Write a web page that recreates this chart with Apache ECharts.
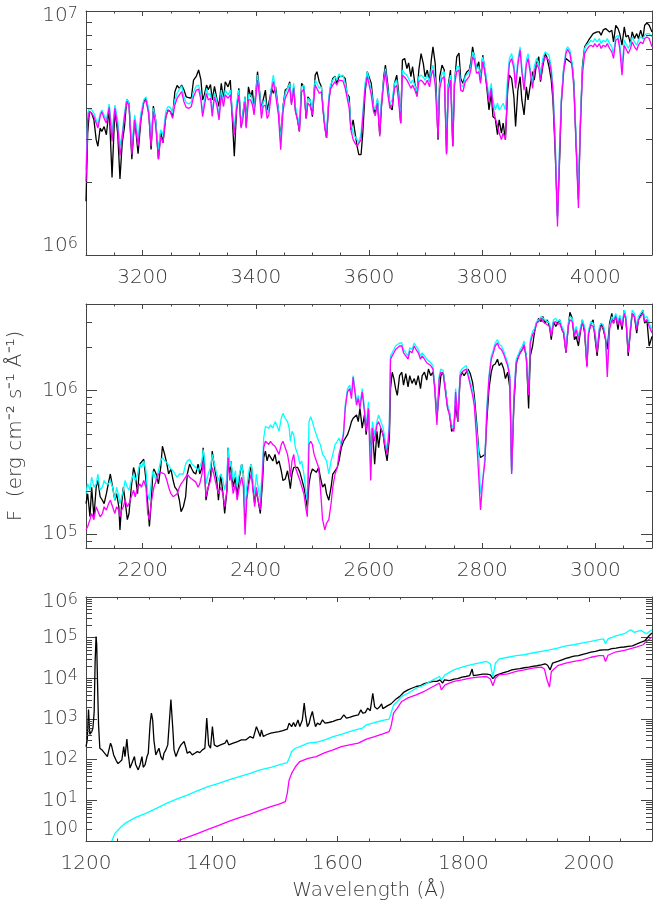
<!DOCTYPE html>
<html>
<head>
    <meta charset="utf-8">
    <script src="https://cdn.jsdelivr.net/npm/echarts@6/dist/echarts.min.js"></script>
</head>
<body style="margin:0">
<div id="main" style="width: 654px;height:904px;"></div>
<script type="text/javascript">
    // flux of the two upper panels is listed in units of 1e5 erg cm-2 s-1 A-1
    var FLUX_UNIT = 1e5;

    // top panel, 3100-4100 A
    var optWave = [3100,3103,3106,3110,3114,3118,3121,3125,3128,3132,
        3136,3141,3146,3151,3156,3160,3164,3168,3172,3176,
        3181,3186,3192,3197,3202,3206,3211,3215,3219,3223,
        3228,3232,3236,3241,3245,3249,3253,3257,3261,3265,
        3269,3273,3277,3282,3286,3290,3295,3299,3303,3306,
        3309,3313,3316,3320,3323,3327,3331,3335,3339,3343,
        3346,3351,3355,3358,3362,3366,3370,3374,3377,3381,
        3383,3387,3391,3394,3397,3400,3403,3407,3410,3413,
        3417,3420,3423,3428,3431,3435,3440,3444,3448,3452,
        3456,3460,3463,3467,3470,3474,3477,3481,3485,3489,
        3492,3496,3500,3505,3508,3512,3516,3519,3522,3525,
        3529,3532,3536,3540,3543,3547,3550,3554,3558,3561,
        3565,3568,3572,3575,3579,3582,3586,3589,3593,3597,
        3600,3604,3608,3611,3615,3619,3622,3626,3629,3633,
        3637,3641,3645,3649,3652,3656,3659,3663,3667,3670,
        3674,3677,3681,3685,3688,3692,3696,3699,3703,3707,
        3710,3713,3717,3722,3725,3729,3733,3737,3740,3744,
        3748,3751,3755,3759,3762,3766,3770,3773,3777,3780,
        3783,3786,3790,3794,3797,3801,3805,3808,3812,3816,
        3819,3823,3827,3830,3834,3837,3841,3845,3848,3852,
        3856,3859,3863,3867,3870,3874,3878,3881,3885,3889,
        3892,3896,3900,3903,3907,3911,3914,3918,3922,3925,
        3929,3933,3937,3940,3944,3948,3951,3955,3959,3962,
        3966,3970,3973,3977,3981,3984,3988,3992,3996,3999,
        4003,4007,4010,4014,4018,4021,4025,4029,4032,4036,
        4040,4043,4047,4051,4054,4058,4062,4065,4069,4073,
        4076,4080,4084,4087,4091,4095,4100];
    var optObs = [16.6,31.6,38.7,38.1,35.8,29.7,27.9,33.1,32.1,33.6,
        31.1,39.9,20.8,39.3,31.6,20.5,28.8,33.6,43.5,41.9,
        24.7,36.3,26.0,35.8,42.5,44.1,38.1,27.1,40.8,35.8,
        24.7,32.1,28.8,36.9,39.3,38.7,36.9,46.7,49.5,48.2,
        49.7,47.6,44.5,44.1,43.9,52.1,54.1,57.3,52.3,43.2,
        45.3,49.7,47.6,50.0,43.2,49.1,43.9,40.6,50.5,43.2,
        51.3,48.9,52.1,52.7,25.4,39.3,48.2,33.6,37.5,44.5,
        33.6,48.9,44.5,47.4,39.3,46.0,56.4,46.0,39.3,43.2,
        47.4,39.3,41.9,48.2,46.0,48.9,39.3,29.7,40.6,47.4,
        48.2,51.3,41.9,48.9,39.3,35.8,32.1,50.5,48.9,36.3,
        44.5,43.2,36.9,54.6,56.4,51.3,48.9,39.3,33.6,30.2,
        43.2,48.9,52.9,54.1,50.5,53.8,54.6,54.1,52.9,46.0,
        44.5,32.6,35.8,32.1,27.9,25.8,25.8,31.6,46.0,56.4,
        57.3,50.5,40.6,38.1,43.2,31.1,40.6,53.8,60.0,50.5,
        40.6,39.3,50.5,54.6,47.4,34.7,62.9,63.9,58.1,61.3,
        53.8,59.1,50.5,46.0,57.3,66.9,60.9,53.8,57.3,51.3,
        62.9,71.3,60.9,29.7,53.8,60.0,57.3,26.2,49.7,57.3,
        27.9,50.5,64.9,67.3,52.9,50.5,54.6,56.4,57.3,61.9,
        71.3,70.2,58.1,61.9,52.1,65.9,56.4,48.9,39.3,46.0,
        36.9,36.3,31.1,35.8,31.6,34.7,29.7,47.4,54.6,52.9,
        44.5,33.6,47.4,53.8,43.2,37.5,48.9,43.2,49.7,56.4,
        52.1,60.9,64.9,51.3,59.1,66.9,64.9,59.1,52.1,43.2,
        26.2,14.4,25.4,43.2,58.1,63.9,62.9,61.9,60.9,50.5,
        27.9,16.9,31.6,59.1,71.3,72.4,75.9,78.3,80.8,80.8,
        82.1,82.1,79.5,83.7,84.7,84.7,82.1,83.4,74.7,87.4,
        84.7,80.8,72.4,86.0,78.3,79.5,73.5,82.1,77.1,80.8,
        77.1,83.4,77.1,87.4,89.3,87.4,82.1];
    var optCyan = [22.3,38.1,39.9,39.3,38.1,35.8,34.1,38.1,39.3,37.5,
        35.8,41.6,31.6,41.2,35.8,27.9,31.6,38.1,43.6,41.9,
        27.9,37.5,30.2,38.1,43.2,44.5,39.3,30.2,39.9,35.8,
        27.0,32.6,31.1,38.7,40.6,40.3,38.1,43.2,46.0,47.8,
        49.3,44.5,42.1,41.6,42.5,46.7,49.3,49.7,45.3,38.1,
        42.5,48.2,45.3,46.0,38.3,46.2,43.2,36.9,47.4,42.5,
        47.4,45.3,47.4,47.8,32.6,41.9,47.4,34.1,37.5,44.5,
        34.1,45.3,45.3,43.2,39.3,46.0,54.6,46.0,38.1,42.5,
        43.2,38.1,39.3,49.7,54.6,47.4,39.3,28.8,40.6,46.0,
        48.2,50.5,43.2,50.5,40.6,36.9,33.6,48.9,49.7,38.1,
        43.9,43.2,39.3,52.1,51.3,48.2,48.9,40.6,34.7,32.1,
        44.5,49.7,52.1,53.8,52.1,55.3,53.8,54.6,50.5,46.7,
        41.9,34.7,31.6,30.6,29.7,28.8,31.6,38.1,50.5,56.4,
        57.3,47.4,40.6,39.3,43.9,34.1,43.2,52.1,58.1,48.2,
        41.9,43.2,50.5,52.1,45.3,36.3,57.3,55.5,54.6,52.9,
        50.5,52.1,49.7,46.7,53.8,54.6,53.5,52.1,54.6,51.3,
        57.3,60.0,52.1,33.1,50.5,55.5,56.4,28.8,48.9,54.6,
        30.6,52.1,59.1,59.1,49.7,48.9,53.8,54.6,56.4,60.0,
        68.0,65.9,58.1,59.1,52.9,64.9,58.1,52.1,44.5,50.5,
        43.2,39.3,41.9,39.3,40.6,41.9,39.3,53.8,63.9,66.9,
        60.9,50.5,62.9,71.3,59.1,49.7,62.9,66.9,58.1,50.5,
        59.1,63.9,60.9,54.6,63.9,68.0,69.1,65.9,59.1,48.9,
        29.7,14.0,29.7,44.5,59.1,69.1,71.3,69.1,60.9,50.5,
        29.7,17.4,33.6,57.3,70.2,72.4,73.5,75.9,74.7,77.1,
        74.7,77.1,73.5,75.9,74.7,77.1,73.5,71.3,66.9,78.3,
        79.5,73.5,59.1,75.9,74.7,70.2,73.5,78.3,74.7,72.4,
        75.9,78.3,77.1,79.5,80.8,80.8,78.3];
    var optMagenta = [20.0,35.8,38.7,38.1,36.9,34.7,33.1,36.9,38.7,36.3,
        34.7,40.3,29.2,39.9,33.6,25.4,30.2,36.9,42.5,40.8,
        25.8,35.8,27.9,36.3,41.9,43.2,37.5,27.9,38.7,34.1,
        24.7,30.6,28.8,36.9,39.1,38.7,36.3,41.2,43.9,45.3,
        46.7,42.5,40.3,39.9,40.6,44.5,47.4,47.8,43.2,36.9,
        40.6,46.0,43.2,43.9,37.0,44.5,41.2,35.8,45.3,40.6,
        45.3,43.9,45.3,46.0,31.0,39.3,45.3,33.1,35.8,42.5,
        33.1,43.2,43.2,41.2,37.5,43.9,52.1,43.9,36.3,40.6,
        41.2,36.3,37.5,47.4,51.3,45.3,37.5,27.0,38.7,43.9,
        46.0,48.6,41.2,48.2,38.7,35.3,32.1,46.7,47.8,36.3,
        41.9,40.8,37.5,49.7,48.9,46.0,46.7,38.7,33.1,30.2,
        42.5,47.8,49.7,51.3,49.7,52.1,51.3,51.7,48.2,44.5,
        39.9,32.6,29.7,28.8,27.9,27.4,29.7,36.3,47.8,53.8,
        54.6,45.3,38.7,37.2,41.9,30.6,41.2,50.5,56.4,46.0,
        39.9,41.2,48.2,49.7,43.2,34.7,54.6,53.5,52.1,50.5,
        48.2,49.7,47.4,44.5,51.3,52.1,50.9,49.7,52.1,48.9,
        54.6,57.3,49.7,30.2,48.2,52.9,53.8,25.8,46.7,52.1,
        27.9,49.7,56.4,57.3,47.4,46.7,51.3,52.1,53.8,57.3,
        64.9,62.9,55.5,56.4,50.5,61.9,55.5,49.7,42.5,48.2,
        40.6,36.3,34.1,31.6,29.7,31.6,29.7,48.9,60.9,63.9,
        58.1,48.2,60.0,69.1,56.4,47.4,60.0,63.9,55.5,48.2,
        56.4,60.9,58.1,52.1,60.9,64.9,65.9,62.9,56.4,46.7,
        27.9,13.1,27.9,42.5,56.4,66.9,69.6,66.9,58.1,48.2,
        27.9,15.6,31.6,54.6,66.9,69.1,71.3,72.4,71.3,73.5,
        71.3,73.5,70.2,72.4,71.3,73.5,70.2,68.0,63.9,75.9,
        77.1,70.2,54.6,72.4,71.3,66.9,70.2,74.7,71.3,69.1,
        72.4,74.7,73.5,77.1,78.3,77.1,71.3];

    // middle panel, 2100-3100 A
    var nuvWave = [2100,2103,2107,2110,2114,2118,2121,2125,2129,2132,
        2136,2140,2143,2147,2151,2154,2158,2160,2163,2166,
        2169,2173,2176,2180,2184,2187,2191,2195,2198,2202,
        2206,2209,2212,2215,2218,2220,2224,2228,2232,2235,
        2239,2243,2246,2250,2254,2257,2261,2265,2268,2272,
        2276,2279,2283,2287,2290,2294,2298,2301,2305,2307,
        2310,2312,2316,2320,2323,2327,2331,2334,2338,2342,
        2345,2349,2351,2354,2356,2360,2364,2367,2371,2375,
        2378,2381,2384,2387,2389,2392,2395,2398,2401,2404,
        2408,2412,2414,2417,2420,2423,2426,2430,2434,2437,
        2441,2445,2448,2452,2456,2459,2461,2464,2467,2470,
        2474,2478,2481,2485,2489,2491,2494,2497,2500,2503,
        2507,2511,2514,2518,2522,2525,2529,2533,2536,2540,
        2544,2547,2551,2555,2558,2562,2566,2569,2572,2575,
        2578,2581,2584,2588,2592,2595,2599,2603,2606,2610,
        2614,2617,2621,2625,2628,2632,2636,2638,2641,2644,
        2647,2650,2654,2658,2661,2665,2669,2672,2676,2680,
        2683,2687,2691,2694,2698,2702,2705,2709,2713,2716,
        2720,2724,2727,2731,2735,2739,2742,2746,2750,2753,
        2757,2761,2764,2768,2772,2775,2779,2783,2786,2790,
        2794,2797,2801,2805,2808,2812,2816,2819,2823,2827,
        2830,2834,2838,2841,2845,2849,2852,2856,2860,2863,
        2867,2871,2874,2878,2882,2885,2889,2893,2896,2900,
        2904,2907,2911,2915,2919,2922,2926,2930,2933,2937,
        2941,2944,2948,2952,2955,2959,2963,2966,2970,2974,
        2977,2981,2985,2988,2992,2996,2999,3003,3007,3010,
        3014,3018,3021,3025,3029,3032,3036,3040,3043,3047,
        3051,3054,3058,3062,3065,3069,3073,3076,3080,3084,
        3087,3091,3095,3100];
    var nuvObs = [1.63,1.91,1.32,2.12,1.32,2.12,2.36,1.82,1.72,1.63,
        1.91,2.30,2.62,2.12,1.72,1.91,1.55,1.07,1.63,2.12,
        1.72,1.26,1.39,2.12,2.91,2.62,1.91,3.07,3.15,3.32,
        2.36,1.63,1.13,1.63,2.62,2.84,2.62,2.24,2.91,4.09,
        3.59,3.07,2.62,2.84,2.36,2.12,2.02,1.72,1.43,1.55,
        1.82,2.62,3.07,2.84,2.69,2.62,3.07,2.62,2.91,3.99,
        2.62,1.72,2.12,2.49,3.78,2.91,2.36,1.72,2.62,1.91,
        1.39,2.02,3.99,2.62,3.23,2.12,2.49,1.82,2.49,3.07,
        2.62,1.26,1.91,2.24,2.62,3.07,2.12,1.63,2.02,1.72,
        1.39,2.36,3.41,3.78,3.23,3.59,3.50,3.23,3.59,3.07,
        3.23,2.76,2.36,2.42,2.76,2.36,2.07,2.62,2.91,2.84,
        2.91,2.69,2.62,2.12,1.72,1.51,2.24,2.62,2.84,2.76,
        2.69,2.91,2.49,2.12,2.24,1.91,1.72,2.12,2.62,2.76,
        2.91,3.23,3.99,4.43,4.55,4.92,5.47,6.07,6.40,6.57,
        6.75,6.07,7.50,5.47,6.75,4.92,7.50,3.59,5.47,3.07,
        5.19,3.99,5.47,4.92,3.99,3.23,4.67,10.3,13.4,12.1,
        10.3,9.25,12.7,13.4,10.9,13.1,10.6,12.7,11.2,12.1,
        10.9,12.7,10.3,12.7,13.4,11.8,14.1,12.7,13.4,10.9,
        6.40,9.77,12.7,13.4,10.3,7.50,7.11,5.19,5.47,7.90,
        6.07,12.1,13.4,12.7,13.4,14.1,13.1,11.4,9.25,6.07,
        3.78,3.41,3.50,3.59,6.07,10.3,13.4,14.9,15.3,16.5,
        14.9,15.6,14.1,12.1,13.4,10.3,2.76,7.90,14.9,17.4,
        18.3,19.3,20.4,17.4,7.50,17.4,20.4,26.5,29.4,31.8,
        30.2,32.7,29.4,31.0,27.9,22.6,30.2,27.9,29.4,31.0,
        26.5,25.1,18.3,27.9,35.0,31.8,22.6,23.8,20.4,26.5,
        31.0,25.1,14.9,25.1,29.4,31.0,23.8,17.4,25.1,29.4,
        26.5,22.6,19.3,29.4,34.4,29.4,33.5,26.5,32.7,26.5,
        36.3,31.0,17.4,26.5,34.4,32.7,25.1,31.0,33.5,36.3,
        29.4,31.0,20.4,23.8];
    var nuvCyan = [1.91,2.24,2.02,2.49,2.12,2.24,2.62,2.02,2.12,2.36,
        2.24,2.24,2.36,2.12,1.72,2.12,1.82,1.63,1.82,2.02,
        2.36,2.12,2.02,2.36,2.62,2.36,2.62,3.07,2.91,3.23,
        2.76,1.91,1.72,2.24,2.76,2.62,2.36,2.76,3.23,3.41,
        3.23,3.15,3.07,2.84,2.76,2.62,2.49,2.62,2.55,2.62,
        3.07,3.23,3.32,3.07,3.15,2.91,2.76,2.84,3.23,3.88,
        3.23,2.24,2.62,2.91,3.59,3.07,2.62,2.36,2.62,2.36,
        2.02,2.49,3.99,2.91,3.23,2.36,2.76,2.12,2.62,3.07,
        2.62,1.39,2.12,2.62,2.91,3.07,2.36,1.91,2.62,2.12,
        1.72,3.07,4.67,5.61,5.76,5.47,5.76,5.47,6.07,5.76,
        5.19,6.40,6.93,6.40,6.07,5.47,4.43,5.19,4.92,3.99,
        3.59,3.07,3.23,2.62,1.91,1.72,6.07,6.57,6.07,5.47,
        4.92,4.43,4.20,3.59,3.41,3.23,2.62,3.23,3.59,4.20,
        4.43,4.67,4.20,5.19,7.90,10.3,10.9,9.25,12.7,10.3,
        8.33,9.25,7.90,10.3,7.50,5.47,8.33,3.07,6.07,4.92,
        6.07,6.75,6.07,5.47,4.67,3.78,6.07,17.4,18.3,19.3,
        20.4,19.8,21.4,21.4,19.3,18.3,17.4,19.8,19.3,21.4,
        20.4,19.3,17.4,18.3,17.4,16.5,16.1,15.6,14.9,10.9,
        6.07,12.7,14.1,13.8,10.3,7.90,7.11,5.76,5.47,10.3,
        6.40,13.4,14.1,14.5,14.9,13.4,11.4,10.3,8.33,5.47,
        3.59,1.91,2.36,3.59,7.50,12.7,17.4,18.8,21.4,22.6,
        20.9,20.4,18.8,17.4,15.6,12.7,2.62,9.25,16.5,17.4,
        19.3,20.4,22.1,17.4,9.77,22.6,25.8,27.2,30.2,31.0,
        32.7,31.8,31.0,30.2,29.4,25.1,31.0,31.8,30.2,31.0,
        27.9,26.5,19.3,29.4,32.7,31.8,25.1,27.9,23.8,27.9,
        31.0,27.9,15.6,26.5,30.2,29.4,26.5,19.3,27.9,29.4,
        28.7,23.8,14.1,27.9,32.7,31.0,34.4,30.2,33.5,29.4,
        36.3,32.7,19.3,27.9,36.3,34.4,27.9,32.7,34.4,36.3,
        31.8,32.7,29.4,26.5];
    var nuvMagenta = [1.07,1.13,1.26,1.39,1.26,1.55,1.59,1.32,1.39,1.55,
        1.47,1.63,1.72,1.55,1.39,1.55,1.47,1.32,1.47,1.55,
        1.72,1.55,1.63,1.82,2.02,1.82,2.12,2.24,2.12,2.36,
        2.12,1.39,1.26,1.63,1.91,2.12,2.36,2.62,2.69,2.76,
        2.62,2.36,2.12,1.91,1.82,1.77,1.91,2.12,2.24,2.36,
        2.49,2.62,2.49,2.42,2.49,2.30,2.12,2.24,2.62,3.23,
        2.49,1.82,2.12,2.36,2.91,2.49,2.12,1.91,2.12,1.91,
        1.55,2.02,3.41,2.36,2.62,1.91,2.24,1.72,2.12,2.49,
        2.12,0.99,1.72,2.12,2.36,2.62,2.02,1.55,2.12,1.72,
        1.47,2.62,3.99,4.43,4.31,4.20,4.43,4.20,4.09,3.99,
        3.59,4.20,4.43,3.99,3.59,3.07,2.49,3.23,3.59,2.91,
        2.62,2.36,2.36,1.91,1.47,1.32,4.20,4.43,4.20,3.59,
        3.23,2.91,2.12,1.26,1.07,1.19,1.26,1.63,2.12,2.62,
        2.91,3.59,4.20,4.92,7.50,9.77,10.3,8.78,12.4,9.77,
        7.90,8.78,7.50,9.77,7.11,5.19,7.50,2.36,5.47,4.43,
        5.76,6.07,5.47,4.92,4.20,3.59,5.47,16.5,17.4,18.3,
        19.3,18.8,20.4,20.4,18.3,17.4,16.5,18.8,18.3,20.4,
        19.3,18.3,16.5,17.4,16.5,15.6,15.3,14.9,14.1,10.3,
        5.76,12.1,13.4,13.1,9.77,7.50,6.75,5.47,5.19,9.77,
        6.07,12.7,13.4,13.8,14.1,12.7,10.9,9.25,7.90,4.67,
        2.49,1.47,2.36,3.23,6.75,12.1,16.5,17.9,20.4,21.4,
        19.8,19.3,17.9,16.5,14.9,12.1,2.62,8.78,15.6,16.5,
        18.3,19.3,20.9,16.5,9.25,21.4,24.5,25.8,29.4,30.2,
        31.8,30.2,29.4,28.7,27.9,23.8,29.4,30.2,28.7,29.4,
        26.5,25.1,18.3,27.9,31.0,30.2,23.8,26.5,22.6,26.5,
        29.4,26.5,14.5,25.1,28.7,27.9,25.1,18.3,26.5,27.9,
        27.2,22.6,12.4,26.5,31.0,29.4,32.7,28.7,31.8,27.9,
        34.4,31.0,18.3,26.5,34.4,32.7,26.5,31.0,32.7,34.4,
        30.2,31.0,27.9,25.1];

    // bottom panel, 1200-2100 A: [wavelength, flux]
    var fuvObs = [[1200,210],[1202,300],[1204,1700],[1206,420],[1209,480],[1211,600],[1213,1500],
        [1214.5,25000],[1216,107000],[1217,70000],[1218.5,6000],[1220,700],[1222,190],[1226,170],
        [1229,158],[1234,119],[1237,131],[1239,254],[1241,210],[1244,131],[1248,95],[1251,80],
        [1254,88],[1257,98],[1260,210],[1262,119],[1265,320],[1267,144],[1270,62],[1274,90],
        [1277,119],[1279,76],[1283,56],[1286,76],[1289,119],[1291,65],[1294,76],[1297,119],
        [1299,144],[1302,790],[1304,1400],[1306,950],[1308,300],[1311,131],[1314,144],[1316,191],
        [1319,119],[1322,98],[1324,144],[1327,174],[1330,231],[1332,650],[1335,3000],[1338,590],
        [1340,174],[1343,119],[1345,131],[1348,191],[1351,231],[1353,210],[1356,279],[1359,191],
        [1361,144],[1365,158],[1369,131],[1373,144],[1377,158],[1381,149],[1385,174],[1389,191],
        [1392,1050],[1395,231],[1398,191],[1401,650],[1404,231],[1408,210],[1414,231],[1421,254],
        [1424,306],[1427,231],[1434,254],[1441,279],[1447,306],[1454,306],[1461,370],[1466,340],
        [1471,650],[1474,490],[1477,370],[1479,540],[1482,370],[1487,410],[1494,450],[1500,470],
        [1507,490],[1513,520],[1520,560],[1523,790],[1527,650],[1530,820],[1533,650],[1537,950],
        [1540,650],[1544,950],[1547,2450],[1549,1260],[1552,650],[1555,790],[1557,1100],[1560,1530],
        [1563,870],[1565,650],[1568,790],[1572,720],[1576,950],[1580,790],[1586,820],[1593,870],
        [1599,950],[1605,990],[1610,1260],[1614,1050],[1619,1100],[1626,1200],[1633,1260],[1637,1680],
        [1640,1390],[1644,1430],[1648,1850],[1652,1600],[1656,4300],[1659,2000],[1663,1750],[1667,2000],
        [1670,2350],[1672,1800],[1679,2100],[1685,2350],[1692,3000],[1699,3600],[1705,4500],[1712,5200],
        [1718,5700],[1725,6300],[1732,6600],[1738,7400],[1745,8000],[1752,8400],[1758,8400],[1763,9200],
        [1767,7600],[1770,9200],[1778,8800],[1785,9600],[1791,9800],[1798,10700],[1804,11100],[1810,11600],
        [1814,16900],[1816,11600],[1824,12200],[1831,12700],[1838,12700],[1843,12200],[1847,9800],[1851,11600],
        [1857,12700],[1864,13800],[1871,14800],[1877,16200],[1884,16900],[1890,17300],[1897,18200],[1904,18900],
        [1910,19600],[1917,20400],[1924,21500],[1930,22800],[1934,21000],[1938,16200],[1942,23700],[1950,26000],
        [1957,28600],[1963,31000],[1970,33000],[1976,35000],[1983,36000],[1990,39000],[1996,41000],[2003,44000],
        [2010,46000],[2016,49000],[2023,50000],[2030,50000],[2036,54000],[2043,55000],[2049,58000],[2056,59000],
        [2062,61000],[2069,63000],[2076,70000],[2082,77000],[2089,85000],[2095,110000],[2100,130000]];
    var fuvCyan = [[1241,1.0],[1246,1.54],[1256,2.24],[1262,2.71],[1279,3.81],[1295,4.8],[1312,6.35],
        [1328,8.4],[1345,10.8],[1361,13.5],[1378,17.3],[1394,21.7],[1411,26.2],[1427,31.7],[1444,38.3],
        [1461,46],[1477,56],[1494,65],[1507,74],[1520,85],[1523,108],[1527,158],[1533,191],[1540,210],
        [1553,254],[1566,268],[1580,306],[1593,370],[1606,420],[1619,490],[1633,560],[1639,590],[1646,720],
        [1659,820],[1672,920],[1682,990],[1685,1390],[1689,2200],[1695,2700],[1702,3600],[1712,4300],
        [1725,5700],[1738,6900],[1752,9200],[1762,11100],[1765,9200],[1768,10700],[1771,12200],[1785,16200],
        [1798,18900],[1811,21500],[1824,23700],[1837,26000],[1843,22800],[1847,10700],[1851,23700],[1857,30000],
        [1871,33000],[1884,36000],[1897,38000],[1910,42000],[1924,46000],[1937,50000],[1950,55000],[1963,63000],
        [1976,67000],[1990,74000],[2003,81000],[2016,89000],[2023,93000],[2026,71000],[2030,93000],[2043,111000],
        [2056,125000],[2066,157000],[2072,135000],[2082,152000],[2091,125000],[2100,157000]];
    var fuvMagenta = [[1345,1.0],[1361,1.23],[1378,1.54],[1394,1.93],[1411,2.42],[1427,3.04],[1444,3.74],
        [1461,4.6],[1477,5.67],[1494,7.0],[1507,8.1],[1517,9.3],[1520,14.9],[1523,31.7],[1527,46],[1533,67],
        [1540,90],[1553,108],[1566,119],[1580,149],[1593,174],[1606,210],[1619,231],[1633,254],[1646,320],
        [1659,370],[1672,430],[1682,490],[1685,650],[1689,1390],[1692,1530],[1695,1850],[1702,2700],[1712,3300],
        [1725,3900],[1738,4800],[1752,6300],[1762,7600],[1765,5200],[1768,4800],[1771,6900],[1785,8400],
        [1798,9200],[1811,10100],[1824,10700],[1837,11100],[1843,9600],[1847,6600],[1851,10100],[1857,12200],
        [1871,12900],[1884,14800],[1897,16200],[1910,17800],[1924,18900],[1929,16900],[1933,9200],[1937,6100],
        [1940,14800],[1950,20400],[1963,23700],[1976,26000],[1990,28600],[2003,33000],[2016,36000],[2023,36000],
        [2026,26000],[2030,37000],[2043,45000],[2056,49000],[2069,55000],[2076,59000],[2086,67000],[2091,81000],
        [2100,104000]];

    // log minor tick values of each panel
    var minorOpt = [2e6,3e6,4e6,5e6,6e6,7e6,8e6,9e6];
    var minorNuv = [9e4,2e5,3e5,4e5,5e5,6e5,7e5,8e5,9e5,2e6,3e6];
    var minorFuv = [2,3,4,5,6,7,8,9, 20,30,40,50,60,70,80,90,
        200,300,400,500,600,700,800,900, 2e3,3e3,4e3,5e3,6e3,7e3,8e3,9e3,
        2e4,3e4,4e4,5e4,6e4,7e4,8e4,9e4, 2e5,3e5,4e5,5e5,6e5,7e5,8e5,9e5];

    var TEXT = '#3a3a3a';
    var FRAME = '#444';
    var FONT = 'DejaVu Sans';
    var WEIGHT = 200;
    var COLORS = ['#000000', '#00ffff', '#ff00ff'];

    function zipFlux(w, f) {
        return w.map(function (x, i) { return [x, f[i] * FLUX_UNIT]; });
    }

    var panels = [
        {top: 11, xmin: 3100, xmax: 4100, ymin: 1e6, ymax: 1e7, minor: minorOpt, firstX: false,
            lowGap: 'gapA', highGap: true,
            lines: [zipFlux(optWave, optObs), zipFlux(optWave, optCyan), zipFlux(optWave, optMagenta)]},
        {top: 304, xmin: 2100, xmax: 3100, ymin: 8e4, ymax: 4e6, minor: minorNuv, firstX: false,
            lowGap: null, highGap: false,
            lines: [zipFlux(nuvWave, nuvObs), zipFlux(nuvWave, nuvCyan), zipFlux(nuvWave, nuvMagenta)]},
        {top: 597, xmin: 1200, xmax: 2100, ymin: 1, ymax: 1e6, minor: minorFuv, firstX: true,
            lowGap: 'gapB', highGap: true,
            lines: [fuvObs, fuvCyan, fuvMagenta]}
    ];

    // "10" with a raised exponent; the gap lines nudge the edge labels like the original
    var rich = {
        b: {fontSize: 20, lineHeight: 20, verticalAlign: 'bottom', color: TEXT, fontFamily: FONT, fontWeight: WEIGHT},
        s: {fontSize: 16, lineHeight: 14, padding: [0, 0, 13, 0], verticalAlign: 'top', color: TEXT, fontFamily: FONT, fontWeight: WEIGHT},
        gapA: {fontSize: 2, lineHeight: 18},
        gapB: {fontSize: 2, lineHeight: 22},
        gapTop: {fontSize: 2, lineHeight: 9}
    };

    function isPow(v) {
        var e = Math.log10(v);
        return Math.abs(e - Math.round(e)) < 1e-6;
    }
    function same(a, b) { return Math.abs(a - b) < 1e-6 * b; }
    function powText(v) { return '{b|10}{s|' + Math.round(Math.log10(v)) + '}'; }

    // main axis labels; the bottom edge label goes on its own axis when it is nudged up
    function powerLabel(p) {
        return function (v) {
            if (!isPow(v)) return '';
            if (p.lowGap && same(v, p.ymin)) return '';
            var t = powText(v);
            if (p.highGap && same(v, p.ymax)) t = '{gapTop| }\n' + t;
            return t;
        };
    }
    function lowLabel(p) {
        return function (v) {
            return same(v, p.ymin) ? powText(v) + '\n{' + p.lowGap + '| }' : '';
        };
    }

    function minorTicks(params, api) {
        var cs = params.coordSys;
        var y = Math.round(api.coord([api.value(0), api.value(1)])[1]) + 0.5;
        var st = {stroke: FRAME, lineWidth: 1};
        return {type: 'group', children: [
            {type: 'line', shape: {x1: cs.x, y1: y, x2: cs.x + 6, y2: y}, style: st},
            {type: 'line', shape: {x1: cs.x + cs.width - 6, y1: y, x2: cs.x + cs.width, y2: y}, style: st}
        ]};
    }

    var grids = [], xAxes = [], yAxes = [], extraY = [], series = [];
    var lineStyle = {color: FRAME, width: 1};
    var textStyle = {fontSize: 20, fontFamily: FONT, fontWeight: WEIGHT, color: TEXT};

    panels.forEach(function (p, i) {
        grids.push({left: 86, top: p.top, width: 566, height: 244, containLabel: false, outerBoundsMode: 'none'});

        [false, true].forEach(function (mirror) {
            xAxes.push({
                type: 'value', gridIndex: i, position: mirror ? 'top' : 'bottom',
                min: p.xmin, max: p.xmax, splitNumber: 5,
                axisLine: {show: true, onZero: false, lineStyle: lineStyle},
                axisTick: {show: true, inside: true, length: 5, lineStyle: lineStyle},
                minorTick: {show: true, splitNumber: 4, length: 2.5, lineStyle: lineStyle},
                splitLine: {show: false},
                axisLabel: {show: !mirror, margin: 13, fontSize: 20, fontFamily: FONT, fontWeight: WEIGHT,
                    color: TEXT, hideOverlap: false,
                    showMinLabel: p.firstX, showMaxLabel: false,
                    formatter: function (v) { return String(v); }},
                name: (i === 2 && !mirror) ? 'Wavelength (Å)' : '',
                nameLocation: 'middle', nameGap: 40,
                nameTextStyle: textStyle
            });
            yAxes.push({
                type: 'log', logBase: 10, gridIndex: i, position: mirror ? 'right' : 'left',
                min: p.ymin, max: p.ymax,
                axisLine: {show: true, onZero: false, lineStyle: lineStyle},
                axisTick: {show: true, inside: true, length: 11, lineStyle: lineStyle},
                minorTick: {show: false},
                splitLine: {show: false},
                axisLabel: {show: !mirror, margin: 8, hideOverlap: false,
                    showMinLabel: !p.lowGap, showMaxLabel: true,
                    formatter: powerLabel(p), rich: rich},
                name: (i === 1 && !mirror) ? 'F  (erg cm⁻² s⁻¹ Å⁻¹)' : '',
                nameLocation: 'middle', nameGap: 60, nameRotate: 90,
                nameTextStyle: textStyle
            });
        });

        if (p.lowGap) {
            extraY.push({
                type: 'log', logBase: 10, gridIndex: i, position: 'left',
                min: p.ymin, max: p.ymax,
                axisLine: {show: false}, axisTick: {show: false},
                minorTick: {show: false}, splitLine: {show: false},
                axisLabel: {show: true, margin: 8, hideOverlap: false,
                    showMinLabel: true, showMaxLabel: false,
                    formatter: lowLabel(p), rich: rich}
            });
        }

        p.lines.forEach(function (d, k) {
            series.push({
                type: 'line', xAxisIndex: 2 * i, yAxisIndex: 2 * i, data: d,
                symbol: 'none', showSymbol: false, silent: true, z: 2 + k,
                lineStyle: {color: COLORS[k], width: 1.3}, itemStyle: {color: COLORS[k]}
            });
        });

        series.push({
            type: 'custom', xAxisIndex: 2 * i, yAxisIndex: 2 * i, silent: true, z: 10,
            data: p.minor.map(function (v) { return [p.xmin, v]; }),
            renderItem: minorTicks
        });
    });

    var myChart = echarts.init(document.getElementById('main'));
    myChart.setOption({
        animation: false,
        backgroundColor: '#ffffff',
        grid: grids,
        xAxis: xAxes,
        yAxis: yAxes.concat(extraY),
        series: series
    });
</script>
</body>
</html>
